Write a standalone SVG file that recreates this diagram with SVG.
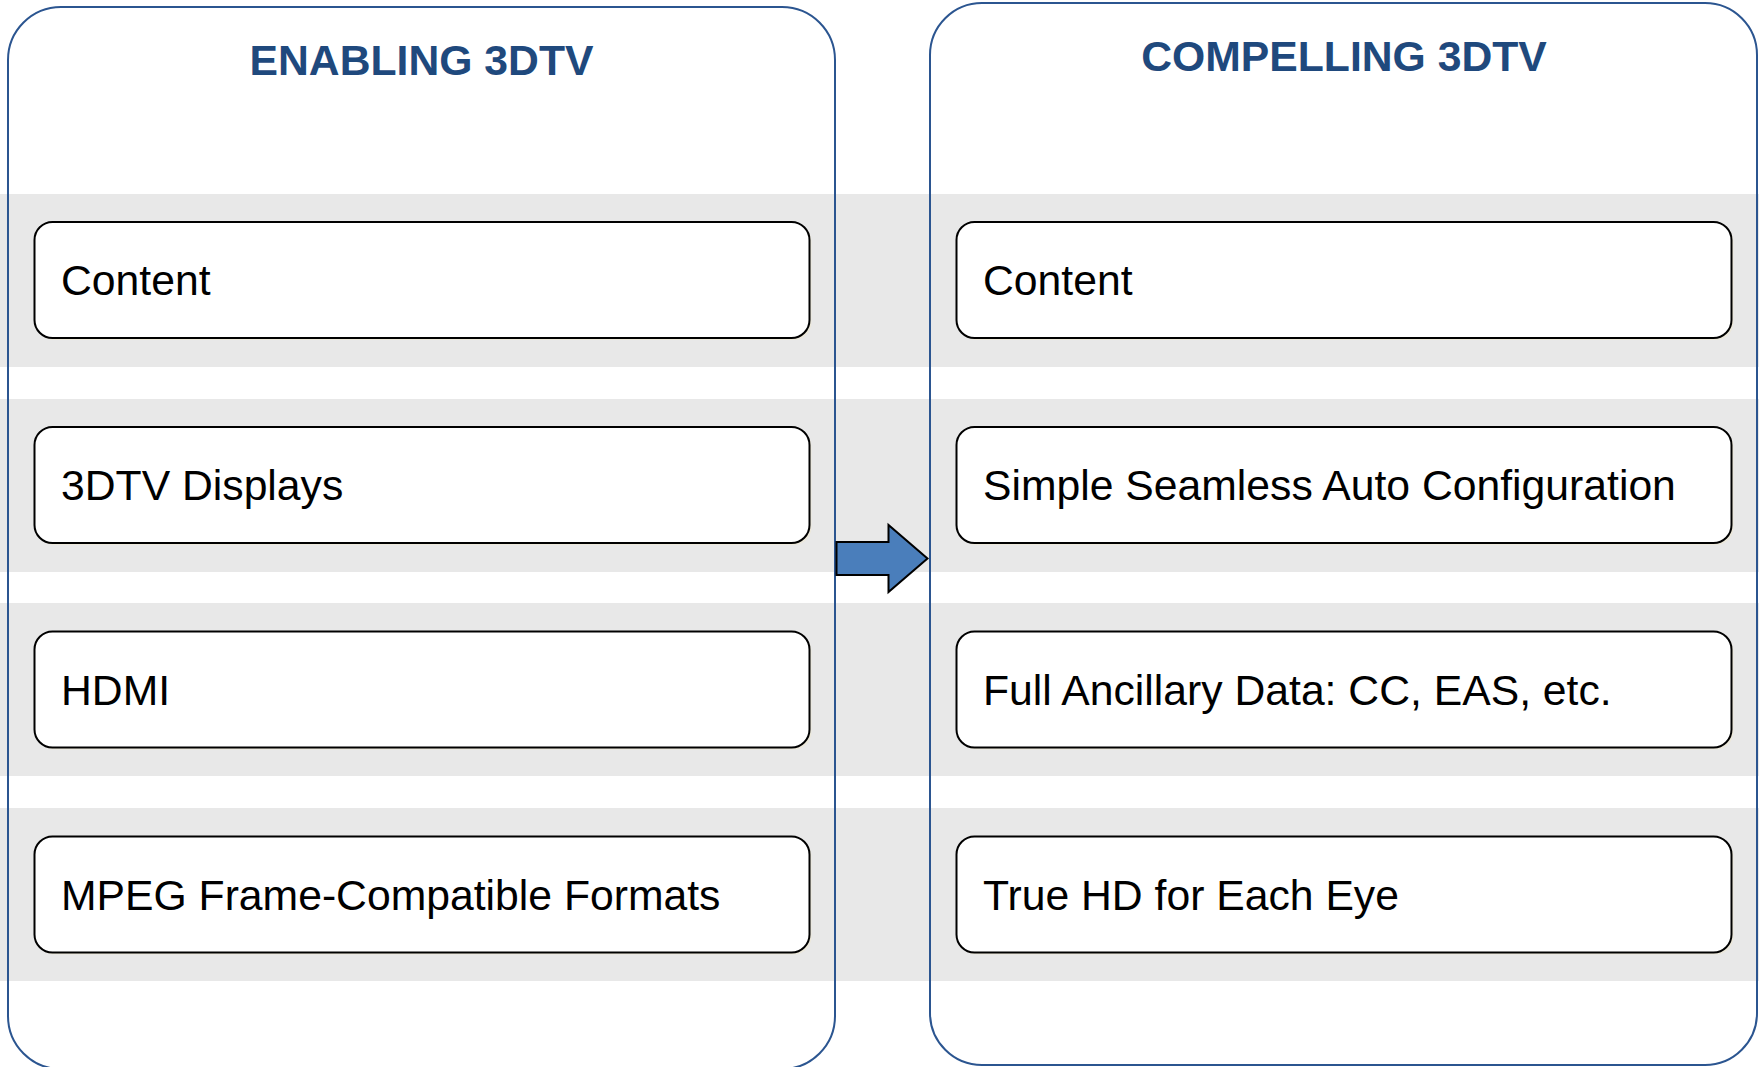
<svg xmlns="http://www.w3.org/2000/svg" width="1759" height="1067" viewBox="0 0 1759 1067">
  <style>
    .band { fill: #e8e8e8; }
    .panel { fill: none; stroke: #2b5590; stroke-width: 2; }
    .title { font-family: "Liberation Sans", Arial, sans-serif; font-weight: bold; font-size: 42.7px; fill: #1f497d; text-anchor: middle; }
    .shadow { fill: #ece8da; }
    .box { fill: #ffffff; stroke: #000000; stroke-width: 2; }
    .label { font-family: "Liberation Sans", Arial, sans-serif; font-size: 42.7px; fill: #000000; }
    .arrow { fill: #4a7ebb; stroke: #000000; stroke-width: 2; stroke-linejoin: miter; }
  </style>

  <rect width="1759" height="1067" fill="#ffffff"/>

  <!-- horizontal row bands -->
  <g id="bands">
    <rect class="band" x="0" y="194" width="1759" height="173"/>
    <rect class="band" x="0" y="399" width="1759" height="173"/>
    <rect class="band" x="0" y="603" width="1759" height="173"/>
    <rect class="band" x="0" y="808" width="1759" height="173"/>
  </g>

  <!-- left column -->
  <g id="panel-enabling">
    <rect class="panel" x="8" y="7" width="827" height="1062" rx="53" ry="53"/>
    <text class="title" x="421.5" y="75">ENABLING 3DTV</text>
  </g>

  <!-- right column -->
  <g id="panel-compelling">
    <rect class="panel" x="930" y="3" width="827" height="1062" rx="52" ry="52"/>
    <text class="title" x="1344" y="71">COMPELLING 3DTV</text>
  </g>

  <!-- left column items -->
  <g id="left-content">
    <rect class="shadow" x="36.5" y="224" width="775" height="116" rx="18"/>
    <rect class="box" x="34.5" y="222" width="775" height="116" rx="18"/>
    <text class="label" x="61" y="295">Content</text>
  </g>
  <g id="left-displays">
    <rect class="shadow" x="36.5" y="429" width="775" height="116" rx="18"/>
    <rect class="box" x="34.5" y="427" width="775" height="116" rx="18"/>
    <text class="label" x="61" y="500">3DTV Displays</text>
  </g>
  <g id="left-hdmi">
    <rect class="shadow" x="36.5" y="633.5" width="775" height="116" rx="18"/>
    <rect class="box" x="34.5" y="631.5" width="775" height="116" rx="18"/>
    <text class="label" x="61" y="704.5">HDMI</text>
  </g>
  <g id="left-mpeg">
    <rect class="shadow" x="36.5" y="838.5" width="775" height="116" rx="18"/>
    <rect class="box" x="34.5" y="836.5" width="775" height="116" rx="18"/>
    <text class="label" x="61" y="910">MPEG Frame-Compatible Formats</text>
  </g>

  <!-- right column items -->
  <g id="right-content">
    <rect class="shadow" x="958.5" y="224" width="775" height="116" rx="18"/>
    <rect class="box" x="956.5" y="222" width="775" height="116" rx="18"/>
    <text class="label" x="983" y="295">Content</text>
  </g>
  <g id="right-autoconfig">
    <rect class="shadow" x="958.5" y="429" width="775" height="116" rx="18"/>
    <rect class="box" x="956.5" y="427" width="775" height="116" rx="18"/>
    <text class="label" x="983" y="500">Simple Seamless Auto Configuration</text>
  </g>
  <g id="right-ancillary">
    <rect class="shadow" x="958.5" y="633.5" width="775" height="116" rx="18"/>
    <rect class="box" x="956.5" y="631.5" width="775" height="116" rx="18"/>
    <text class="label" x="983" y="704.5">Full Ancillary Data: CC, EAS, etc.</text>
  </g>
  <g id="right-truehd">
    <rect class="shadow" x="958.5" y="838.5" width="775" height="116" rx="18"/>
    <rect class="box" x="956.5" y="836.5" width="775" height="116" rx="18"/>
    <text class="label" x="983" y="910">True HD for Each Eye</text>
  </g>

  <!-- connector between the columns -->
  <g id="connectors">
    <path class="arrow" d="M836.5,542 L888.5,542 L888.5,525 L927.5,558.5 L888.5,592 L888.5,575 L836.5,575 Z"/>
  </g>
</svg>
